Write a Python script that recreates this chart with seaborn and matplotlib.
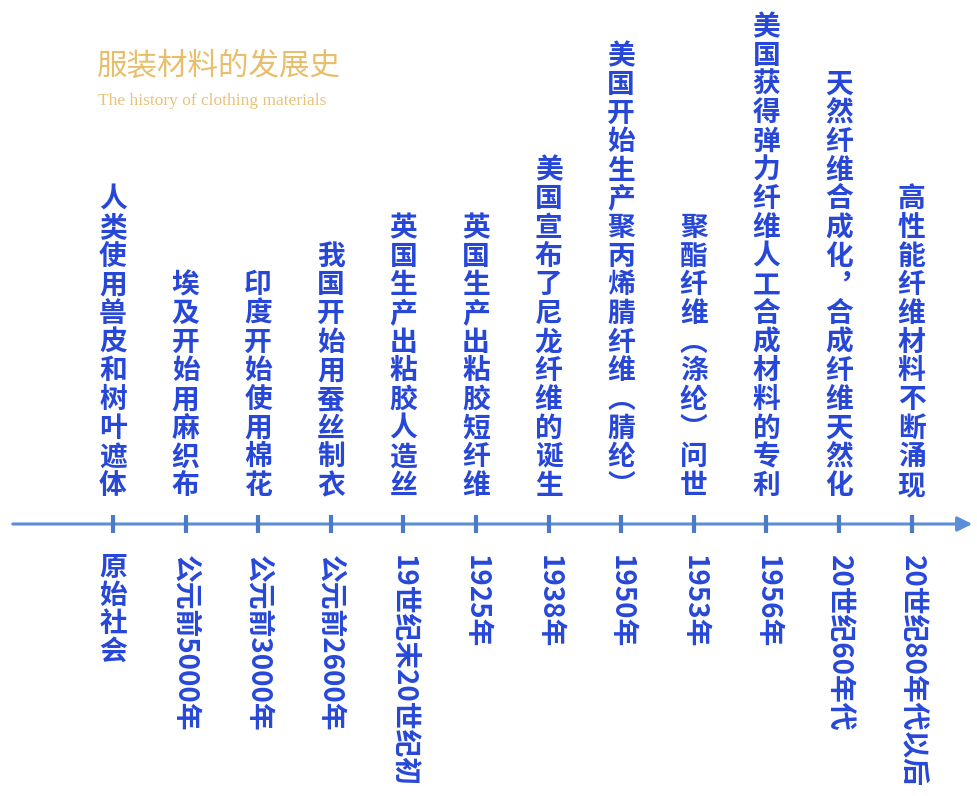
import matplotlib
matplotlib.use("Agg")
import matplotlib.pyplot as plt
import seaborn as sns
import pandas as pd

dates = ["原始社会", "公元前5000年", "公元前3000年", "公元前2600年", "19世纪末20世纪初",
         "1925年", "1938年", "1950年", "1953年", "1956年", "20世纪60年代", "20世纪80年代以后"]
events = ["人类使用兽皮和树叶遮体", "埃及开始用麻织布", "印度开始使用棉花", "我国开始用蚕丝制衣",
          "英国生产出粘胶人造丝", "英国生产出粘胶短纤维", "美国宣布了尼龙纤维的诞生",
          "美国开始生产聚丙烯腈纤维︵腈纶︶", "聚酯纤维︵涤纶︶问世",
          "美国获得弹力纤维人工合成材料的专利", "天然纤维合成化︐合成纤维天然化", "高性能纤维材料不断涌现"]
title_cn = "服装材料的发展史"
title_en = "The history of clothing materials"

sns.set_theme(style="white")
plt.rcParams['font.family'] = ['Noto Sans CJK SC', 'DejaVu Sans']

W, H = 977, 796
fig = plt.figure(figsize=(W / 100, H / 100), dpi=100)
ax = fig.add_axes([0, 0, 1, 1])
sp = 72.6
x0 = 113
ax.set_xlim((0 - x0) / sp, (W - x0) / sp)
ax.set_ylim(524 - H, 524)
ax.axis("off")

df = pd.DataFrame({"idx": range(len(dates)), "y": [0] * len(dates), "date": dates, "event": events})

line_col = "#5B8ED6"
text_col = "#2747D8"

# axis arrow
ax.annotate("", xy=((975 - x0) / sp, 0), xytext=((10 - x0) / sp, 0),
            arrowprops=dict(arrowstyle="-|>", color=line_col, lw=2.2, mutation_scale=22))
# ticks
sns.scatterplot(data=df, x="idx", y="y", marker="|", s=160, linewidth=3,
                color="#4A7BC8", ax=ax, zorder=3)

fs = 20
for i, row in df.iterrows():
    ax.text(row.idx, 24, "\n".join(row.event), ha="center", va="bottom",
            fontsize=fs, fontweight="bold", color=text_col, linespacing=1.03)
    if i == 0:
        ax.text(row.idx, -30, "\n".join(row.date), ha="center", va="top",
                fontsize=fs, fontweight="bold", color=text_col, linespacing=1.0)
    else:
        ax.text(row.idx, -31, row.date, ha="center", va="top", rotation=-90,
                fontsize=20, fontweight="bold", color=text_col)

fig.text(97 / W, 1 - 66 / H, title_cn, ha="left", va="center", fontsize=22,
         color="#E8BE6A", fontweight="light")
fig.text(98 / W, 1 - 101 / H, title_en, ha="left", va="center", fontsize=12.5,
         color="#E8C27A", family="Liberation Serif")

fig.savefig("out.png", dpi=100, facecolor="white")
